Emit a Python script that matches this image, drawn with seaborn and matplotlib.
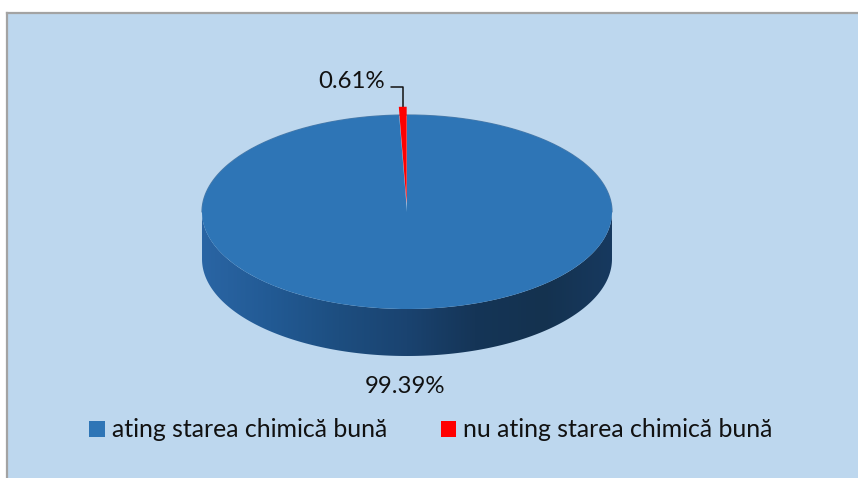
import numpy as np
import seaborn as sns
import matplotlib
matplotlib.use("Agg")
import matplotlib.pyplot as plt
from matplotlib.colors import LinearSegmentedColormap
from matplotlib.patches import Polygon

categories = ["ating starea chimică bună", "nu ating starea chimică bună"]
values = [99.39, 0.61]
colors = ["#2E75B6", "#FF0000"]
bg = "#BDD7EE"

sns.set_theme(style="white")
plt.rcParams["font.family"] = ["Lato", "DejaVu Sans"]

W, H = 858, 478
fig = plt.figure(figsize=(W / 100, H / 100), dpi=100, facecolor="white")

def box(x0, y0, x1, y1):
    return [x0 / W, 1 - y1 / H, (x1 - x0) / W, (y1 - y0) / H]

# chart area in pixel coordinates
base = fig.add_axes(box(7, 13, W, H), facecolor=bg)
base.set_xlim(7, W)
base.set_ylim(H, 13)
base.set_xticks([]); base.set_yticks([])
for s in ["right", "bottom"]:
    base.spines[s].set_visible(False)
for s in ["top", "left"]:
    base.spines[s].set_color("#a3a3a3")
    base.spines[s].set_linewidth(1.6)

# pie geometry
cx, cy, rx, ry, depth = 407, 212, 205, 97, 47

# side wall with horizontal shading
t = np.linspace(0, np.pi, 200)
ex, ey = cx + rx * np.cos(t), cy + ry * np.sin(t)
wall = np.r_[np.c_[ex, ey], np.c_[ex[::-1], ey[::-1] + depth]]
cmap = LinearSegmentedColormap.from_list(
    "wall", ["#2A65A4", "#225A94", "#1D4E80", "#1A4370", "#153557", "#14324F", "#17395F"])
im = base.imshow(np.linspace(0, 1, 256)[None, :], cmap=cmap, aspect="auto",
                 extent=(cx - rx, cx + rx, cy + ry + depth, cy), zorder=1)
clip = Polygon(wall, closed=True, transform=base.transData)
im.set_clip_path(clip)
base.set_xlim(7, W)
base.set_ylim(H, 13)

# pie top
ax = fig.add_axes(box(cx - rx, cy - ry, cx + rx, cy + ry), facecolor="none")
wedges, _ = ax.pie(values, colors=colors, startangle=90, counterclock=False,
                   explode=[0, 0.085], radius=1,
                   wedgeprops={"clip_on": False, "linewidth": 0})
ax.set_aspect("auto")
ax.set_xlim(-1, 1)
ax.set_ylim(-1, 1)
a = np.linspace(0, np.pi, 200)
ax.plot(np.cos(a), np.sin(a), color="#4F7CA8", lw=0.9, zorder=0.5, clip_on=False)

# data labels and leader
base.text(352, 82, f"{values[1]}%", ha="center", va="center", fontsize=17.3, color="#111111")
base.text(405, 387, f"{values[0]}%", ha="center", va="center", fontsize=17.3, color="#111111")
base.plot([391, 403, 403], [87, 87, 107], color="#111111", lw=1.1, zorder=5)

# legend
leg = base.legend(wedges, categories, ncol=2, frameon=False, fontsize=17.9,
                  handlelength=0.61, handleheight=0.61, handletextpad=0.3,
                  columnspacing=2.14, labelcolor="#111111",
                  loc="center", bbox_to_anchor=(431, 430),
                  bbox_transform=base.transData, borderpad=0, borderaxespad=0)

fig.savefig("out.png", dpi=100)
